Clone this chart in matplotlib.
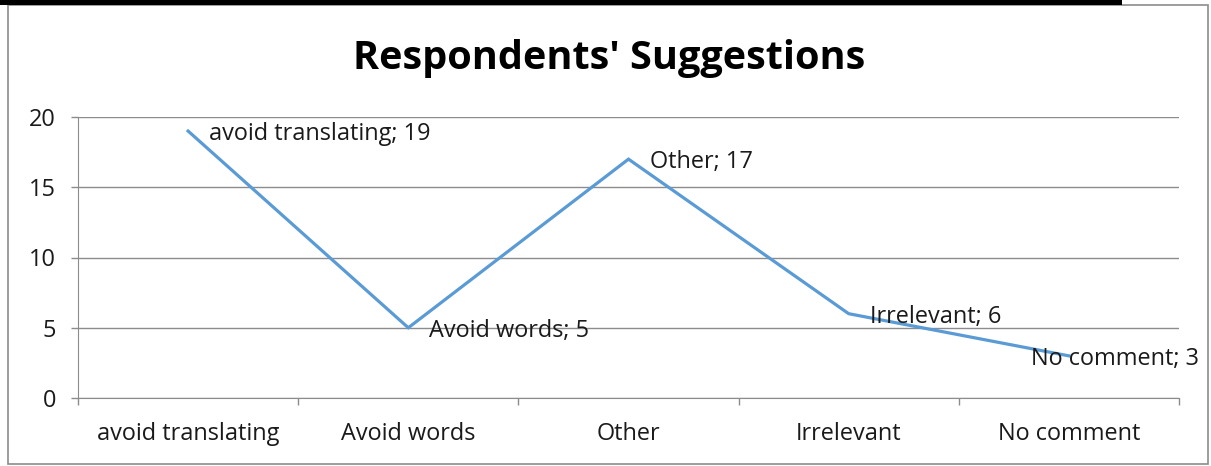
import matplotlib
matplotlib.use("Agg")
import matplotlib.pyplot as plt
from matplotlib.patches import Rectangle

plt.rcParams['font.family'] = ['Open Sans', 'DejaVu Sans']

# Datos
categorias = ['avoid translating', 'Avoid words', 'Other', 'Irrelevant', 'No comment']
valores = [19, 5, 17, 6, 3]
y_ticks = [0, 5, 10, 15, 20]

W, H = 1211, 466
fig = plt.figure(figsize=(W / 100, H / 100), dpi=100)

# marco del grafico y barra negra superior
fig.patches.append(Rectangle((8 / W, 1 - 464 / H), 1200 / W, 459 / H, transform=fig.transFigure,
                             fill=False, edgecolor='#8c8c8c', linewidth=1.2))
fig.patches.append(Rectangle((0, 1 - 5 / H), 1122 / W, 5 / H, transform=fig.transFigure,
                             facecolor='black', edgecolor='none'))

ax = fig.add_axes([78 / W, 1 - 398 / H, (1179 - 78) / W, (398 - 117) / H])
x = list(range(len(categorias)))
ax.plot(x, valores, color='#5B9BD5', linewidth=2.3, solid_joinstyle='miter', zorder=3)

ax.set_xlim(-0.5, len(categorias) - 0.5)
ax.set_ylim(0, 20)
ax.set_yticks(y_ticks)
ax.set_xticks(x)
ax.set_xticklabels(categorias)
ax.set_xticks([i + 0.5 for i in range(-1, len(categorias))], minor=True)
ax.tick_params(axis='x', which='major', length=0, pad=17.5, labelsize=16.9, labelcolor='#1a1a1a')
ax.tick_params(axis='x', which='minor', length=5, color='#8c8c8c', width=1)
ax.tick_params(axis='y', length=5, color='#8c8c8c', width=1, pad=11, labelsize=16.9, labelcolor='#1a1a1a')
ax.grid(axis='y', color='#8c8c8c', linewidth=1)
ax.set_axisbelow(True)
for s in ['top', 'right']:
    ax.spines[s].set_visible(False)
for s in ['left', 'bottom']:
    ax.spines[s].set_color('#8c8c8c')

# etiquetas de datos
for i, (c, v) in enumerate(zip(categorias, valores)):
    if i == len(categorias) - 1:
        ax.annotate(f'{c}; {v}', (i, v), xytext=(130, -3), textcoords='offset pixels',
                    ha='right', va='center', fontsize=16.9, color='#1a1a1a')
    else:
        ax.annotate(f'{c}; {v}', (i, v), xytext=(21, -3), textcoords='offset pixels',
                    ha='left', va='center', fontsize=16.9, color='#1a1a1a')

fig.text(609 / W, 1 - 58 / H, "Respondents' Suggestions", ha='center', va='center',
         fontsize=28.5, fontweight='bold')

fig.savefig('out.png', dpi=100)
